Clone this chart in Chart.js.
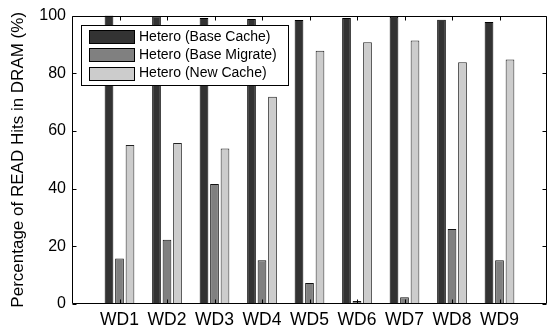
<!DOCTYPE html>
<html>
<head>
<meta charset="utf-8">
<script src="https://cdn.jsdelivr.net/npm/chart.js@4.4.0/dist/chart.umd.min.js"></script>
<style>
html,body{margin:0;padding:0;background:#fff;}
#wrap{width:548px;height:326px;}
</style>
</head>
<body>
<div id="wrap"><canvas id="c" width="548" height="326"></canvas></div>
<script>
const categories = ['WD1','WD2','WD3','WD4','WD5','WD6','WD7','WD8','WD9'];
const seriesNames = ['Hetero (Base Cache)','Hetero (Base Migrate)','Hetero (New Cache)'];
const baseCache   = [100, 99.7, 99.2, 98.8, 98.5, 99.2, 99.6, 98.6, 97.8];
const baseMigrate = [15.8, 22.3, 41.6, 15.2, 7.3, 1.0, 2.3, 26.0, 15.2];
const newCache    = [55.1, 55.8, 53.9, 71.9, 87.8, 90.8, 91.4, 83.8, 84.8];
const yTicks = [0, 20, 40, 60, 80, 100];
const yTitle = 'Percentage of READ Hits in DRAM (%)';

const colors = ['#333333', '#808080', '#cccccc'];
const FONT = "'Liberation Sans', Arial, Helvetica, sans-serif";

function toPoints(arr){ return arr.map((v,i)=>({x:i+1, y:v})); }

const boxPlugin = {
  id: 'boxPlugin',
  afterDatasetsDraw(chart){
    const {ctx, chartArea:a, scales} = chart;
    const x = scales.x, y = scales.y;
    ctx.save();
    ctx.strokeStyle = '#000';
    ctx.lineWidth = 1;
    const L = Math.round(a.left)+0.5, R = Math.round(a.right)-0.5;
    const T = Math.round(a.top)+0.5, B = Math.round(a.bottom)-0.5;
    ctx.beginPath();
    ctx.rect(L, T, R-L, B-T);
    yTicks.forEach(v=>{
      const py = Math.round(y.getPixelForValue(v))+0.5;
      ctx.moveTo(L, py); ctx.lineTo(L+4, py);
      ctx.moveTo(R, py); ctx.lineTo(R-4, py);
    });
    categories.forEach((c,i)=>{
      const px = Math.round(x.getPixelForValue(i+1))+0.5;
      ctx.moveTo(px, T); ctx.lineTo(px, T+4);
      ctx.moveTo(px, B); ctx.lineTo(px, B-4);
    });
    ctx.stroke();

    // legend
    const lx = 81, ly = 25, lw = 207, lh = 60;
    ctx.fillStyle = '#fff';
    ctx.fillRect(lx, ly, lw, lh);
    ctx.strokeRect(lx+0.5, ly+0.5, lw, lh);
    ctx.font = '14px ' + FONT;
    ctx.textBaseline = 'middle';
    ctx.textAlign = 'left';
    chart.data.datasets.forEach((ds, i)=>{
      const cy = 36.5 + i*18.3;
      const sy = Math.round(cy - 6.5);
      ctx.fillStyle = ds.backgroundColor;
      ctx.fillRect(89, sy, 45, 13);
      ctx.strokeStyle = '#000';
      ctx.strokeRect(89.5, sy+0.5, 45, 13);
      ctx.fillStyle = '#000';
      ctx.fillText(ds.label, 139, cy+0.5);
    });
    ctx.restore();
  }
};

new Chart(document.getElementById('c'), {
  type: 'bar',
  data: {
    datasets: [
      {label: seriesNames[0], data: toPoints(baseCache), backgroundColor: colors[0], borderColor: '#000', borderWidth: 1},
      {label: seriesNames[1], data: toPoints(baseMigrate), backgroundColor: colors[1], borderColor: '#111', borderWidth: 1},
      {label: seriesNames[2], data: toPoints(newCache), backgroundColor: colors[2], borderColor: '#222', borderWidth: 1}
    ]
  },
  options: {
    responsive: false,
    animation: false,
    devicePixelRatio: 1,
    layout: {padding: {top: 14, right: 1, left: 0, bottom: 0}},
    datasets: {bar: {categoryPercentage: 0.663, barPercentage: 0.83}},
    plugins: {legend: {display: false}, tooltip: {enabled: false}},
    scales: {
      x: {
        type: 'linear', min: 0, max: 10, offset: false,
        grid: {display: false, drawTicks: false},
        border: {display: false},
        afterFit(s){ s.height = 22; },
        afterBuildTicks(s){ s.ticks = categories.map((c,i)=>({value: i+1})); },
        ticks: {
          autoSkip: false, maxRotation: 0, padding: 6,
          color: '#000', font: {family: FONT, size: 17.5},
          callback: (v)=> categories[v-1] ?? ''
        }
      },
      y: {
        min: 0, max: 100,
        grid: {display: false, drawTicks: false},
        border: {display: false},
        afterFit(s){ s.width = 72; },
        afterBuildTicks(s){ s.ticks = yTicks.map(v=>({value: v})); },
        ticks: {padding: 6, color: '#000', font: {family: FONT, size: 16}},
        title: {display: true, text: yTitle, color: '#000', font: {family: FONT, size: 17}, padding: {top: 8, bottom: 0}}
      }
    }
  },
  plugins: [boxPlugin]
});
</script>
</body>
</html>
